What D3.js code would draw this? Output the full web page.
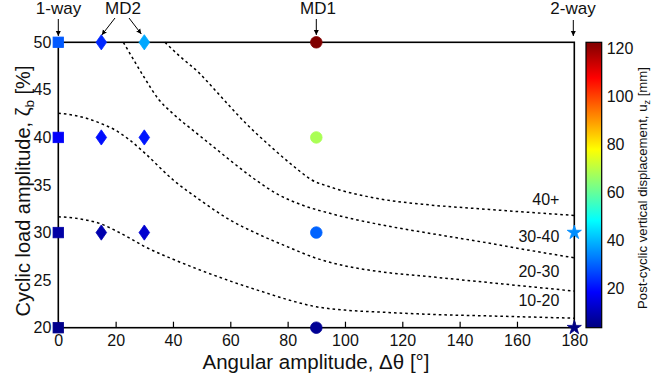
<!DOCTYPE html>
<html>
<head>
<meta charset="utf-8">
<script src="https://cdn.jsdelivr.net/npm/d3@7"></script>
<style>
  html, body { margin: 0; padding: 0; background: #fff; }
  svg { display: block; font-family: "Liberation Sans", Arial, sans-serif; }
</style>
</head>
<body>
<svg id="chart" width="671" height="379"></svg>
<script>
// Test results: [angular amplitude (deg), cyclic load amplitude (%), post-cyclic displacement (mm)]
const oneWayTests = [[0, 50, 29], [0, 40, 18], [0, 30, 8], [0, 20, 5]];
const md2Tests = [[15, 50, 23], [15, 40, 20], [15, 30, 9], [30, 50, 38], [30, 40, 21], [30, 30, 13]];
const md1Tests = [[90, 50, 122.5], [90, 40, 68], [90, 30, 30], [90, 20, 6]];
const twoWayTests = [[180, 30, 35], [180, 20, 4]];

// Displacement contour boundaries: [deg, %]
const contour10 = [[0, 31.65], [5, 31.55], [10, 31.3], [15, 30.9], [20, 30.2], [25, 29.4], [30, 28.55],
  [40, 27.2], [50, 26.0], [60, 24.9], [70, 23.9], [80, 22.95], [90, 22.2], [100, 21.85], [115, 21.6],
  [130, 21.4], [155, 21.2], [180, 21.0]];
const contour20 = [[0, 42.55], [5, 42.35], [10, 42.0], [15, 41.45], [20, 40.75], [25, 39.7], [30, 38.4],
  [40, 35.55], [50, 33.3], [60, 31.3], [70, 29.8], [80, 28.5], [90, 27.3], [100, 26.5], [112, 25.9],
  [130, 25.35], [155, 24.6], [180, 23.85]];
const contour30 = [[22.7, 50], [26, 48.3], [30, 46.3], [35, 44.0], [40, 42.5], [48, 40.5], [55, 38.8],
  [62, 37.1], [69, 35.5], [77, 33.95], [85, 32.9], [95, 32.0], [112, 30.85], [130, 29.9], [150, 28.9],
  [165, 28.1], [180, 27.35]];
const contour40 = [[37.2, 50], [42.5, 48.5], [49.4, 46.7], [54, 45.2], [65.7, 41.4], [75, 38.8], [83.2, 36.7],
  [88, 35.6], [94.8, 34.8], [112, 33.55], [129.7, 32.9], [147, 32.5], [180, 31.8]];
const contourLines = [contour10, contour20, contour30, contour40];

// Range labels between contours: [text, deg, %]
const rangeLabels = [["40+", 174.8, 32.9], ["30-40", 174.8, 29.0], ["20-30", 174.8, 25.35], ["10-20", 174.8, 22.25]];

const xTicks = [0, 20, 40, 60, 80, 100, 120, 140, 160, 180];
const yTicks = [20, 25, 30, 35, 40, 45, 50];
const cbTicks = [20, 40, 60, 80, 100, 120];
const cbDomain = [3.6, 122.5];

const svg = d3.select("#chart");
const plotLeft = 58.3, plotRight = 574.3, plotTop = 42.3, plotBottom = 327.7;

const x = d3.scaleLinear().domain([0, 180]).range([plotLeft, plotRight]);
const y = d3.scaleLinear().domain([20, 50]).range([plotBottom, plotTop]);

// MATLAB-style jet colormap
const jet = t => {
  const c = v => Math.round(255 * Math.max(0, Math.min(1, v)));
  return `rgb(${c(1.5 - Math.abs(4 * t - 3))},${c(1.5 - Math.abs(4 * t - 2))},${c(1.5 - Math.abs(4 * t - 1))})`;
};
const colorT = d3.scaleLinear().domain(cbDomain).range([0, 1]).clamp(true);
const color = v => jet(colorT(v));

// Contour lines
const line = d3.line().x(d => x(d[0])).y(d => y(d[1])).curve(d3.curveMonotoneX);
svg.append("g").selectAll("path").data(contourLines).join("path")
  .attr("d", line)
  .attr("fill", "none")
  .attr("stroke", "#000")
  .attr("stroke-width", 1.5)
  .attr("stroke-dasharray", "2.6,3");

svg.append("g").selectAll("text").data(rangeLabels).join("text")
  .attr("x", d => x(d[1]))
  .attr("y", d => y(d[2]))
  .attr("text-anchor", "end")
  .attr("font-size", 16)
  .attr("fill", "#111")
  .text(d => d[0]);

// Axes box
svg.append("rect")
  .attr("x", plotLeft).attr("y", plotTop)
  .attr("width", plotRight - plotLeft).attr("height", plotBottom - plotTop)
  .attr("fill", "none").attr("stroke", "#000").attr("stroke-width", 1.6);

// Bottom ticks (inward)
const xAxis = d3.axisBottom(x).tickValues(xTicks).tickSizeInner(-6).tickSizeOuter(0).tickPadding(7);
const xg = svg.append("g").attr("transform", `translate(0,${plotBottom})`).call(xAxis);
xg.select(".domain").remove();
xg.selectAll("line").attr("stroke", "#000").attr("stroke-width", 1.2);
xg.selectAll("text").attr("font-size", 16).attr("fill", "#111")
  .attr("font-family", "'Liberation Sans', Arial, sans-serif");

const yAxis = d3.axisLeft(y).tickValues(yTicks).tickSize(0).tickPadding(7);
const yg = svg.append("g").attr("transform", `translate(${plotLeft},0)`).call(yAxis);
yg.select(".domain").remove();
yg.selectAll("text").attr("font-size", 16).attr("fill", "#111")
  .attr("font-family", "'Liberation Sans', Arial, sans-serif");

// Markers
const marks = svg.append("g");
const sq = 10.5;
marks.selectAll(".sq").data(oneWayTests).join("rect")
  .attr("x", d => x(d[0]) - sq / 2).attr("y", d => y(d[1]) - sq / 2)
  .attr("width", sq).attr("height", sq)
  .attr("fill", d => color(d[2])).attr("stroke", d => color(d[2])).attr("stroke-width", 0.8);

const diamond = (cx, cy) => `M${cx},${cy - 7.6}L${cx + 5.3},${cy}L${cx},${cy + 7.6}L${cx - 5.3},${cy}Z`;
marks.selectAll(".dia").data(md2Tests).join("path")
  .attr("d", d => diamond(x(d[0]), y(d[1])))
  .attr("fill", d => color(d[2])).attr("stroke", d => color(d[2])).attr("stroke-width", 0.8);

marks.selectAll(".circ").data(md1Tests).join("circle")
  .attr("cx", d => x(d[0])).attr("cy", d => y(d[1])).attr("r", 5.8)
  .attr("fill", d => color(d[2])).attr("stroke", d => color(d[2])).attr("stroke-width", 0.8);

marks.selectAll(".star").data(twoWayTests).join("path")
  .attr("d", d3.symbol(d3.symbolStar, 62))
  .attr("transform", d => `translate(${x(d[0])},${y(d[1])})`)
  .attr("fill", d => color(d[2])).attr("stroke", d => color(d[2])).attr("stroke-width", 0.8);

// Test series annotations with arrows
const defs = svg.append("defs");
defs.append("marker").attr("id", "ah").attr("viewBox", "0 0 10 10")
  .attr("refX", 10).attr("refY", 5).attr("markerWidth", 5).attr("markerHeight", 6)
  .attr("markerUnits", "userSpaceOnUse").attr("orient", "auto")
  .append("path").attr("d", "M0,0L10,5L0,10Z").attr("fill", "#000");

const annG = svg.append("g");
const annText = [["1-way", 58.5], ["MD2", 123], ["MD1", 318], ["2-way", 573]];
annG.selectAll("text").data(annText).join("text")
  .attr("x", d => d[1]).attr("y", 14)
  .attr("text-anchor", "middle").attr("font-size", 17).attr("fill", "#111")
  .text(d => d[0]);

const arrows = [
  [x(0), 19, x(0), 36],
  [115, 18, x(15) + 0.5, 35],
  [129, 18, x(30) - 3, 34],
  [x(90), 19, x(90), 35],
  [x(180) - 1, 20, x(180) - 1, 36]
];
annG.selectAll("line").data(arrows).join("line")
  .attr("x1", d => d[0]).attr("y1", d => d[1]).attr("x2", d => d[2]).attr("y2", d => d[3])
  .attr("stroke", "#000").attr("stroke-width", 1)
  .attr("marker-end", "url(#ah)");

// Axis titles
svg.append("text")
  .attr("x", 316).attr("y", 369)
  .attr("text-anchor", "middle").attr("font-size", 20.5).attr("fill", "#111")
  .text("Angular amplitude, Δθ [°]");

const yTitle = svg.append("text")
  .attr("transform", "translate(30,191) rotate(-90)")
  .attr("text-anchor", "middle").attr("font-size", 20).attr("fill", "#111");
yTitle.append("tspan").text("Cyclic load amplitude, ζ");
yTitle.append("tspan").attr("font-size", 13.5).attr("dy", 4).text("b");
yTitle.append("tspan").attr("dy", -4).text(" [%]");

// Colorbar
const cbX = 586, cbW = 15.7;
const cbY = d3.scaleLinear().domain(cbDomain).range([plotBottom, plotTop]);
const grad = defs.append("linearGradient").attr("id", "cbgrad")
  .attr("x1", 0).attr("y1", 1).attr("x2", 0).attr("y2", 0);
d3.range(0, 1.0001, 1 / 64).forEach(t => {
  grad.append("stop").attr("offset", t).attr("stop-color", jet(t));
});
svg.append("rect")
  .attr("x", cbX).attr("y", plotTop).attr("width", cbW).attr("height", plotBottom - plotTop)
  .attr("fill", "url(#cbgrad)").attr("stroke", "#000").attr("stroke-width", 1.2);

const cbAxis = d3.axisRight(cbY).tickValues(cbTicks).tickSize(0).tickPadding(5);
const cbg = svg.append("g").attr("transform", `translate(${cbX + cbW},0)`).call(cbAxis);
cbg.select(".domain").remove();
cbg.selectAll("text").attr("font-size", 16).attr("fill", "#111")
  .attr("font-family", "'Liberation Sans', Arial, sans-serif");

const cbTitle = svg.append("text")
  .attr("transform", "translate(647,188) rotate(-90)")
  .attr("text-anchor", "middle").attr("font-size", 13.2).attr("fill", "#111");
cbTitle.append("tspan").text("Post-cyclic vertical displacement, u");
cbTitle.append("tspan").attr("font-size", 9).attr("dy", 3).text("z");
cbTitle.append("tspan").attr("dy", -3).text(" [mm]");
</script>
</body>
</html>
